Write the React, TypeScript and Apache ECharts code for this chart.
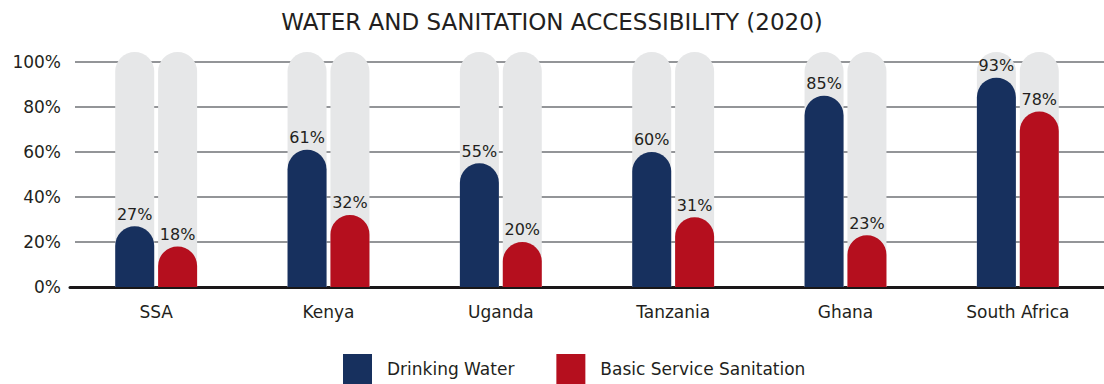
import React, { useEffect, useRef } from "react";
import * as echarts from "echarts";

const categories = ["SSA", "Kenya", "Uganda", "Tanzania", "Ghana", "South Africa"];
const drinkingWater = [27, 61, 55, 60, 85, 93];
const sanitation = [18, 32, 20, 31, 23, 78];
const yTicks = [0, 20, 40, 60, 80, 100];

const FONT = "'DejaVu Sans', sans-serif";
const TEXT = "#231f20";

export default function App() {
  const ref = useRef<HTMLDivElement>(null);
  useEffect(() => {
    if (!ref.current) return;
    const chart = echarts.init(ref.current, null, { renderer: "svg" });
    const labelCfg = {
      show: true,
      position: "top",
      distance: 4,
      formatter: "{c}%",
      color: TEXT,
      fontFamily: FONT,
      fontSize: 16,
    };
    chart.setOption({
      animation: false,
      title: {
        text: "WATER AND SANITATION ACCESSIBILITY (2020)",
        left: "center",
        top: 5,
        textStyle: { fontFamily: FONT, fontSize: 23, fontWeight: "normal", color: TEXT },
      },
      legend: {
        data: ["Drinking Water", "Basic Service Sanitation"],
        left: 338,
        top: 349,
        itemWidth: 29,
        itemHeight: 30,
        itemGap: 42,
        icon: "rect",
        textStyle: { fontFamily: FONT, fontSize: 17, color: TEXT, padding: [12, 0, 0, 10] },
      },
      grid: [
        { left: 75, right: 0, top: 62, bottom: 97 },
        { left: 70, width: 1039, top: 52, bottom: 97 },
      ],
      xAxis: [
        {
          gridIndex: 0,
          type: "value",
          show: true,
          axisLine: { show: false },
          axisTick: { show: false },
          axisLabel: { show: false },
          splitLine: { show: false },
        },
        {
          gridIndex: 1,
          type: "category",
          data: categories,
          axisLine: { show: true, lineStyle: { color: "#1a1718", width: 3 } },
          axisTick: { show: false },
          axisLabel: { color: TEXT, fontFamily: FONT, fontSize: 17, margin: 16 },
        },
      ],
      yAxis: [
        {
          gridIndex: 0,
          type: "value",
          min: 0,
          max: 100,
          interval: 20,
          axisLine: { show: false },
          axisTick: { show: false },
          axisLabel: {
            formatter: (v: number) => (yTicks.includes(v) ? v + "%" : ""),
            color: TEXT,
            fontFamily: FONT,
            fontSize: 17,
            margin: 14,
          },
          splitLine: { show: true, lineStyle: { color: "#939598", width: 2 } },
        },
        {
          gridIndex: 1,
          type: "value",
          min: 0,
          max: 104.4,
          show: false,
          splitLine: { show: false },
        },
      ],
      series: [
        {
          name: "Drinking Water",
          type: "bar",
          xAxisIndex: 1,
          yAxisIndex: 1,
          data: drinkingWater,
          barWidth: 39,
          barGap: "10%",
          itemStyle: { color: "#17305e", borderRadius: [19.5, 19.5, 0, 0] },
          showBackground: true,
          backgroundStyle: { color: "#e6e7e8", borderRadius: [19.5, 19.5, 0, 0] },
          label: labelCfg,
        },
        {
          name: "Basic Service Sanitation",
          type: "bar",
          xAxisIndex: 1,
          yAxisIndex: 1,
          data: sanitation,
          barWidth: 39,
          barGap: "10%",
          itemStyle: { color: "#b50f1e", borderRadius: [19.5, 19.5, 0, 0] },
          showBackground: true,
          backgroundStyle: { color: "#e6e7e8", borderRadius: [19.5, 19.5, 0, 0] },
          label: labelCfg,
        },
      ],
    });
    return () => chart.dispose();
  }, []);
  return (
    <div
      ref={ref}
      style={{ position: "fixed", left: 0, top: 0, width: 1104, height: 384, background: "#fff" }}
    />
  );
}
